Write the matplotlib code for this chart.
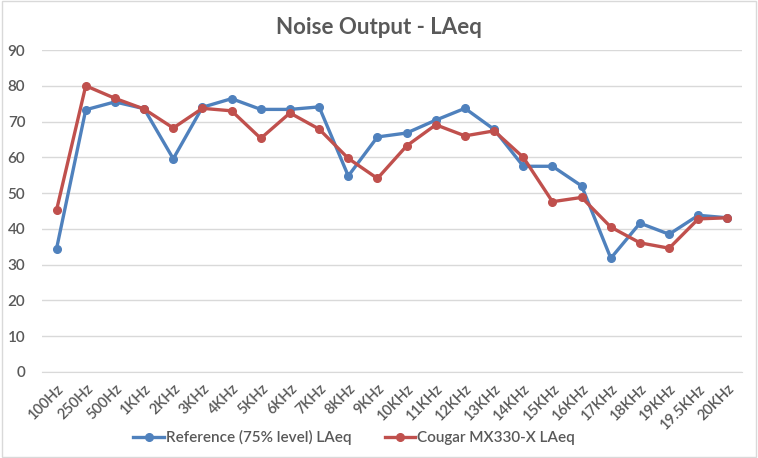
import matplotlib
matplotlib.use("Agg")
import matplotlib.pyplot as plt

categories = ["100Hz", "250Hz", "500Hz", "1KHz", "2KHz", "3KHz", "4KHz", "5KHz",
              "6KHz", "7KHz", "8KHz", "9KHz", "10KHz", "11KHz", "12KHz", "13KHz",
              "14KHz", "15KHz", "16KHz", "17KHz", "18KHz", "19KHz", "19.5KHz", "20KHz"]

reference = [34.5, 73.3, 75.5, 73.6, 59.6, 74.0, 76.4, 73.4, 73.4, 74.1, 54.8, 65.7,
             66.8, 70.4, 73.7, 67.8, 57.5, 57.5, 52.0, 31.8, 41.6, 38.5, 43.8, 43.1]
cougar = [45.3, 80.0, 76.5, 73.5, 68.2, 73.7, 73.0, 65.3, 72.4, 67.9, 59.7, 54.1,
          63.2, 69.1, 66.0, 67.4, 60.0, 47.6, 48.8, 40.5, 36.1, 34.6, 42.8, 43.1]

grey = "#595959"
plt.rcParams["font.family"] = ["Lato", "DejaVu Sans"]

fig = plt.figure(figsize=(7.58, 4.58), dpi=100)
ax = fig.add_axes([0.0554, 0.1878, 0.9236, 0.703])

x = list(range(len(categories)))
ax.plot(x, reference, color="#4F81BD", lw=2.4, marker="o", ms=5.5,
        label="Reference (75% level) LAeq", zorder=3)
ax.plot(x, cougar, color="#C0504D", lw=2.4, marker="o", ms=5.5,
        label="Cougar MX330-X LAeq", zorder=4)

ax.set_xlim(-0.5, len(categories) - 0.5)
ax.set_ylim(0, 90)
ax.set_yticks(range(0, 91, 10))
ax.set_xticks(x)
ax.set_xticklabels(categories, rotation=45, ha="right", rotation_mode="anchor")
ax.tick_params(axis="both", length=0, colors=grey, labelsize=10.5)
ax.tick_params(axis="x", pad=7)
ax.tick_params(axis="y", pad=12)
for lab in ax.get_xticklabels():
    lab.set_fontweight("semibold")
for lab in ax.get_yticklabels():
    lab.set_fontsize(11)
    lab.set_fontweight("semibold")

ax.grid(axis="y", color="#D9D9D9", lw=1)
ax.set_axisbelow(True)
for s in ["top", "left", "right"]:
    ax.spines[s].set_visible(False)
ax.spines["bottom"].set_color("#D9D9D9")

fig.text(0.5, 0.94, "Noise Output - LAeq", ha="center", va="center",
         fontsize=16, fontweight="bold", color=grey)

leg = fig.legend(loc="center", bbox_to_anchor=(0.467, 0.045), ncol=2, frameon=False,
                 fontsize=11, labelcolor=grey, handlelength=2.0, columnspacing=2.2,
                 handletextpad=0.1)
for t in leg.get_texts():
    t.set_fontweight("semibold")

border = plt.Rectangle((0.002, 0.003), 0.996, 0.994, transform=fig.transFigure,
                       fill=False, ec="#D9D9D9", lw=1)
fig.patches.append(border)

fig.savefig("out.png", dpi=100)
